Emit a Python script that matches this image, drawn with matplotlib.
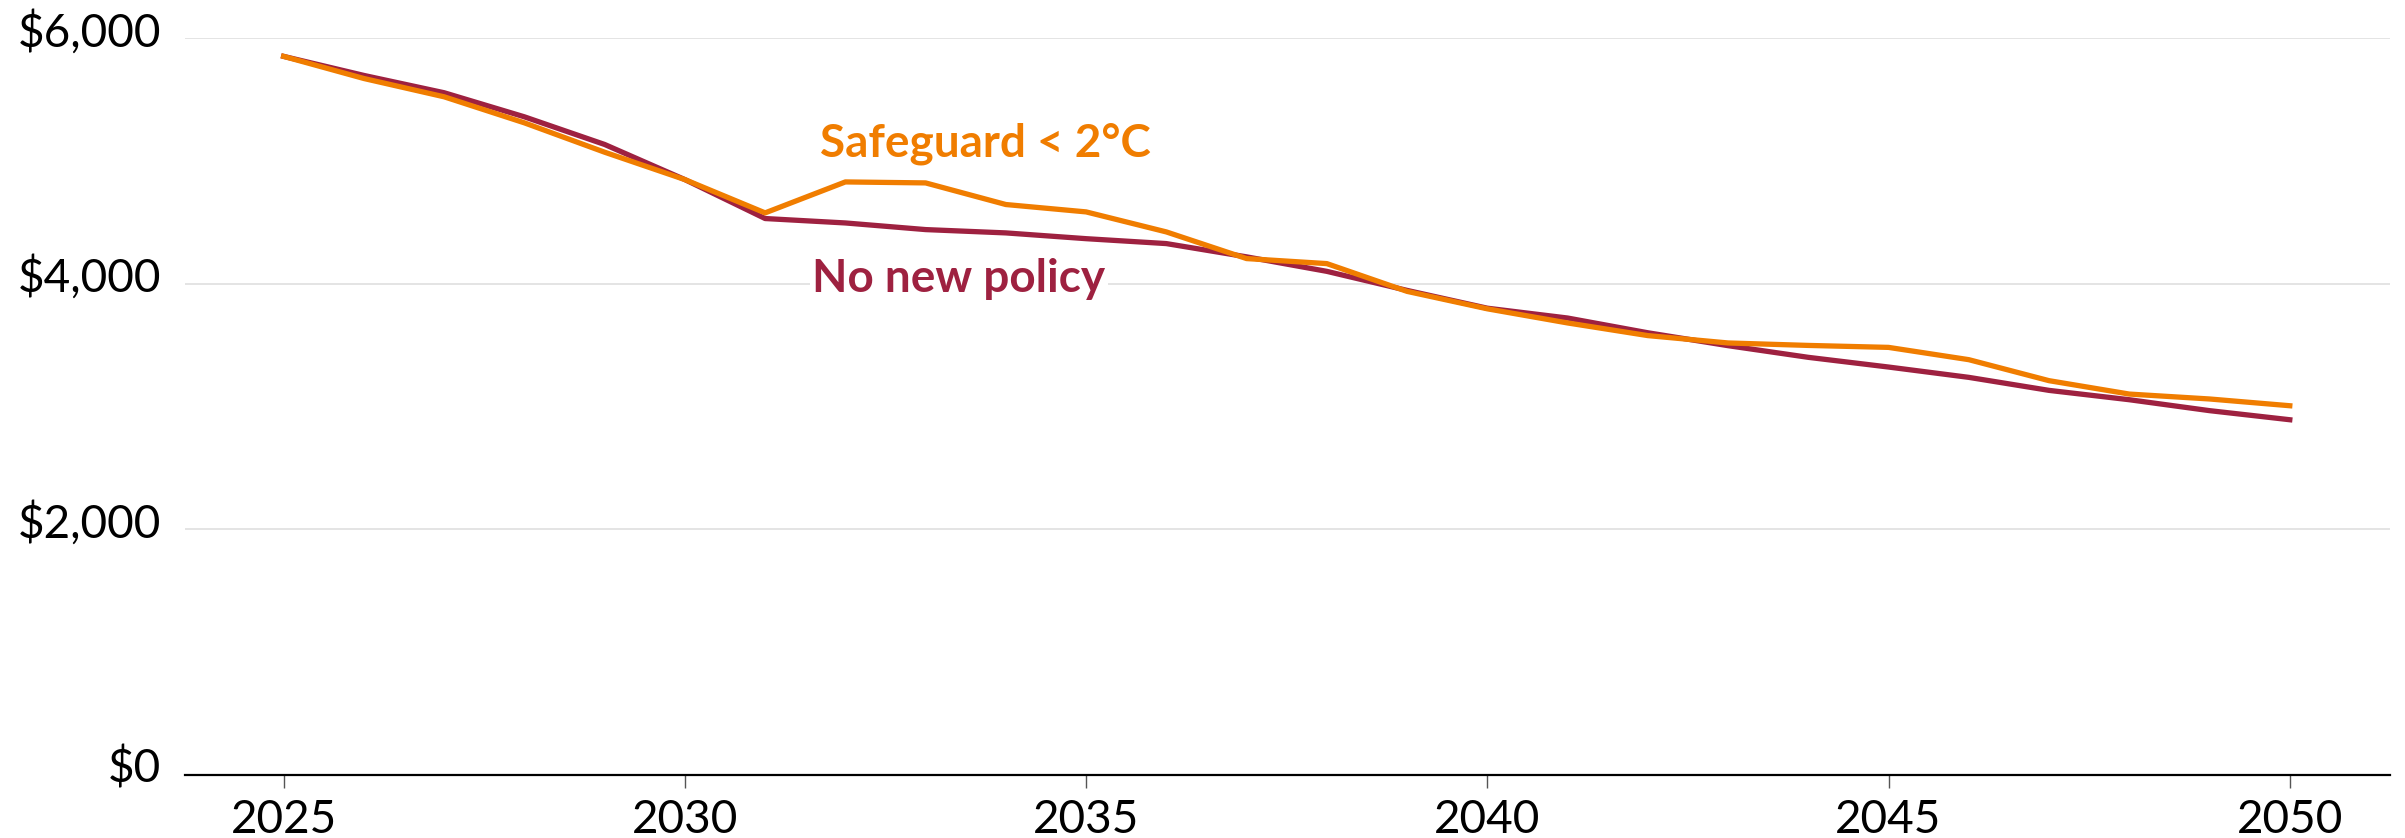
"""Household cost per year under two policy paths, 2025-2050."""

import matplotlib.pyplot as plt
import matplotlib.transforms as mtransforms

years = list(range(2025, 2051))
no_new_policy = [5850, 5695, 5554, 5358, 5133, 4847, 4530, 4494, 4440, 4413,
                 4366, 4326, 4218, 4100, 3945, 3800, 3720, 3600, 3495, 3400,
                 3321, 3237, 3131, 3055, 2966, 2892]
safeguard = [5850, 5670, 5521, 5309, 5070, 4847, 4576, 4828, 4820, 4644,
             4584, 4421, 4204, 4163, 3937, 3795, 3680, 3577, 3517, 3497,
             3481, 3381, 3210, 3101, 3061, 3006]
y_ticks = [0, 2000, 4000, 6000]
y_labels = ['$0', '$2,000', '$4,000', '$6,000']
x_ticks = [2025, 2030, 2035, 2040, 2045, 2050]

RED = '#9e2140'
ORANGE = '#f07d00'

plt.rcParams['font.family'] = ['Lato', 'DejaVu Sans']

fig = plt.figure(figsize=(24.05, 8.38), dpi=100)
ax = fig.add_axes([0.0769, 0.0752, 0.9169, 0.8795])

ax.plot(years, no_new_policy, color=RED, lw=3.8, zorder=3)
ax.plot(years, safeguard, color=ORANGE, lw=3.8, zorder=4)

ax.set_xlim(2023.77, 2051.25)
ax.set_ylim(0, 6000)

ax.set_yticks(y_ticks)
ax.set_yticklabels(y_labels)
ax.set_xticks(x_ticks)
ax.set_xticklabels([str(x) for x in x_ticks])

ax.grid(axis='y', color='#dcdcdc', lw=1.1, zorder=0)
ax.set_axisbelow(True)
for s in ['top', 'right', 'left']:
    ax.spines[s].set_visible(False)
ax.spines['bottom'].set_linewidth(1.6)
ax.spines['bottom'].set_color('black')

ax.tick_params(axis='y', length=0, pad=17, labelsize=33, labelcolor='black')
ax.tick_params(axis='x', length=9, width=1.0, color='#555555', pad=8,
               labelsize=33, labelcolor='black')

# y labels sit a little above their gridlines
shift = mtransforms.ScaledTranslation(0, 0.1, fig.dpi_scale_trans)
for lab in ax.get_yticklabels():
    lab.set_transform(lab.get_transform() + shift)

ax.text(2031.69, 5035, 'Safeguard < 2°C', color=ORANGE, fontsize=33,
        fontweight='bold', va='baseline', ha='left', zorder=5)
ax.text(2031.59, 3935, 'No new policy', color=RED, fontsize=33,
        fontweight='bold', va='baseline', ha='left', zorder=2,
        bbox=dict(facecolor='white', edgecolor='none', pad=2))

fig.savefig('out.png', dpi=100)
